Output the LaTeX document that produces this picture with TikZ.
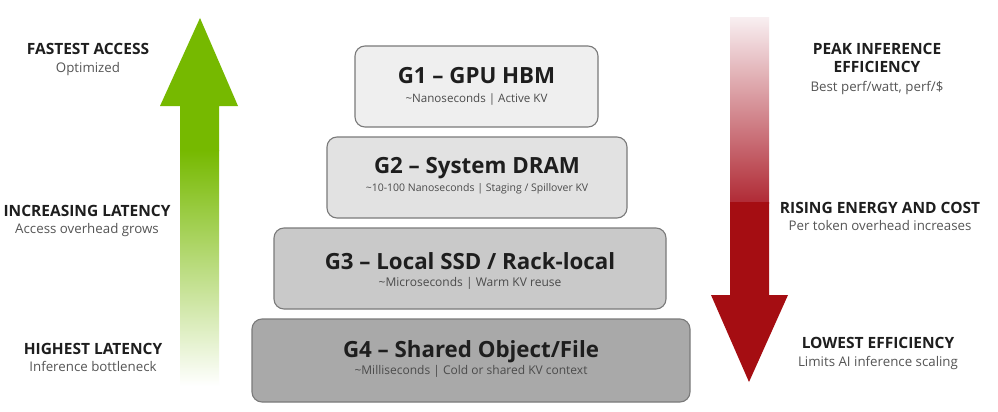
\documentclass[tikz,border=0pt]{standalone}
\usepackage{fontspec}
\setmainfont{Open Sans}
\definecolor{nvgreen}{HTML}{76B900}
\definecolor{nvgreenmid}{HTML}{AED873}
\definecolor{nvred}{HTML}{A50D12}
\definecolor{redtop}{HTML}{F8EEF0}
\definecolor{redmid}{HTML}{D9A9AE}
\definecolor{redbot}{HTML}{B02A35}
\definecolor{txt}{HTML}{1E1E1E}
\definecolor{subtxt}{HTML}{555555}
\definecolor{boxline}{HTML}{7A7A7A}
\definecolor{fillA}{HTML}{EFEFEF}
\definecolor{fillB}{HTML}{E2E2E2}
\definecolor{fillC}{HTML}{C9C9C9}
\definecolor{fillD}{HTML}{A9A9A9}
\begin{document}
\begin{tikzpicture}[x=1pt,y=-1pt,
  tier/.style={draw=boxline, line width=1.1pt, rounded corners=10pt, inner sep=0pt},
  tiertitle/.style={anchor=base, text=txt, font=\fontsize{22.3}{25}\selectfont\bfseries, inner sep=0pt},
  tiersub/.style={anchor=base, text=txt!80, font=\fontsize{#1}{13}\selectfont, inner sep=0pt},
  sidehead/.style={anchor=base, text=txt, font=\fontsize{15.5}{17}\selectfont\bfseries, inner sep=0pt},
  sidesub/.style={anchor=base, text=subtxt, font=\fontsize{13.3}{15}\selectfont, inner sep=0pt}]
\useasboundingbox (0,0) rectangle (998,412);
\fill[white] (0,0) rectangle (998,412);

% green arrow
\fill[nvgreen] (200,18) -- (238,106) -- (219,106) -- (219,151) -- (180,151) -- (180,106) -- (160,106) -- cycle;
\shade[top color=nvgreen, middle color=nvgreenmid, bottom color=white] (180,150) rectangle (219,386);

% red arrow
\shade[top color=redtop, middle color=redmid, bottom color=redbot] (730,18) rectangle (769,203);
\fill[nvred] (730,202) -- (769,202) -- (769,295) -- (788,295) -- (749,382) -- (711,295) -- (730,295) -- cycle;

% tiers
\node[tier, fill=fillA, minimum width=243pt, minimum height=81pt] (g1) at (476.5,86.5) {};
\node[tier, fill=fillB, minimum width=300pt, minimum height=81pt] (g2) at (477,177.5) {};
\node[tier, fill=fillC, minimum width=392pt, minimum height=81pt] (g3) at (470,268.5) {};
\node[tier, fill=fillD, minimum width=438pt, minimum height=83pt] (g4) at (471,360.5) {};

\node[tiertitle] (g1t) at ([yshift=-38pt]g1.north) {G1 – GPU HBM};
\node[tiersub=11.6] (g1s) at ([yshift=-57pt]g1.north) {\textasciitilde Nanoseconds | Active KV};
\node[tiertitle] (g2t) at ([yshift=-37pt]g2.north) {G2 – System DRAM};
\node[tiersub=10.5] (g2s) at ([yshift=-55pt]g2.north) {\textasciitilde 10-100 Nanoseconds | Staging / Spillover KV};
\node[tiertitle] (g3t) at ([yshift=-42pt]g3.north) {G3 – Local SSD / Rack-local};
\node[tiersub=12] (g3s) at ([yshift=-59pt]g3.north) {\textasciitilde Microseconds | Warm KV reuse};
\node[tiertitle] (g4t) at ([yshift=-39pt]g4.north) {G4 – Shared Object/File};
\node[tiersub=12] (g4s) at ([yshift=-56pt]g4.north) {\textasciitilde Milliseconds | Cold or shared KV context};

% left labels
\node[sidehead] (l1) at (88,55) {FASTEST ACCESS};
\node[sidesub] (l1s) at (88,73) {Optimized};
\node[sidehead] (l2) at (87,216) {INCREASING LATENCY};
\node[sidesub] (l2s) at (87,233) {Access overhead grows};
\node[sidehead] (l3) at (93,354) {HIGHEST LATENCY};
\node[sidesub] (l3s) at (93,371) {Inference bottleneck};

% right labels
\node[sidehead] (r1) at (877,55) {PEAK INFERENCE};
\node[sidehead] (r1b) at (877,73) {EFFICIENCY};
\node[sidesub] (r1s) at (877,92) {Best perf/watt, perf/\$};
\node[sidehead] (r2) at (880,213) {RISING ENERGY AND COST};
\node[sidesub] (r2s) at (880,230) {Per token overhead increases};
\node[sidehead] (r3) at (878,348) {LOWEST EFFICIENCY};
\node[sidesub] (r3s) at (878,366) {Limits AI inference scaling};
\end{tikzpicture}
\end{document}
